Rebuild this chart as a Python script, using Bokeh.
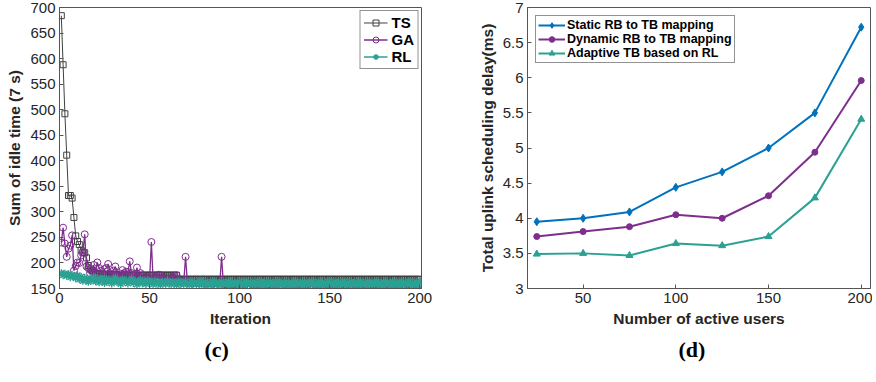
from bokeh.plotting import figure
from bokeh.models import Range1d, Legend, LegendItem, Title, FixedTicker
from bokeh.layouts import row
from bokeh.embed import file_html
from bokeh.resources import INLINE

# ---------------- data: chart (c) ----------------
ITER = list(range(1, 201))
TS = [
    684, 588, 492, 411, 332, 332, 327, 289, 253, 242, 236, 225, 220, 220, 210, 195, 188, 185, 182, 180,
    179, 178, 178, 178, 178, 178, 177, 177, 177, 177, 177, 177, 176, 176, 176, 176, 176, 176, 176, 176,
    176, 176, 176, 176, 176, 176, 176, 176, 176, 176, 176, 176, 176, 176, 176, 176, 176, 176, 176, 176,
    176, 176, 176, 176, 176, 168, 168, 168, 168, 168, 168, 168, 168, 168, 168, 168, 168, 168, 168, 168,
    168, 168, 168, 168, 168, 168, 168, 168, 168, 168, 168, 168, 168, 168, 168, 168, 168, 168, 168, 168,
    168, 168, 168, 168, 168, 168, 168, 168, 168, 168, 168, 168, 168, 168, 168, 168, 168, 168, 168, 168,
    168, 168, 168, 168, 168, 168, 168, 168, 168, 168, 168, 168, 168, 168, 168, 168, 168, 168, 168, 168,
    168, 168, 168, 168, 168, 168, 168, 168, 168, 168, 168, 168, 168, 168, 168, 168, 168, 168, 168, 168,
    168, 168, 168, 168, 168, 168, 168, 168, 168, 168, 168, 168, 168, 168, 168, 168, 168, 168, 168, 168,
    168, 168, 168, 168, 168, 168, 168, 168, 168, 168, 168, 168, 168, 168, 168, 168, 168, 168, 168, 168,
]
GA = [
    240, 269, 238, 212, 228, 234, 254, 185, 194, 201, 200, 215, 222, 256, 193, 190, 180, 185, 196, 180,
    201, 190, 185, 178, 188, 190, 198, 180, 178, 185, 193, 175, 180, 172, 186, 180, 183, 182, 203, 180,
    175, 178, 191, 172, 180, 175, 170, 172, 168, 166, 241, 166, 170, 172, 177, 176, 170, 168, 165, 168,
    166, 170, 172, 174, 176, 165, 163, 162, 163, 212, 162, 161, 162, 160, 161, 162, 160, 160, 161, 160,
    159, 160, 161, 160, 159, 160, 160, 159, 160, 212, 158, 157, 158, 157, 156, 157, 158, 156, 157, 156,
    155, 156, 157, 155, 156, 155, 157, 156, 155, 156, 157, 155, 156, 155, 156, 157, 155, 156, 155, 156,
    157, 155, 156, 155, 156, 157, 155, 156, 155, 156, 155, 157, 156, 155, 156, 155, 157, 156, 155, 156,
    155, 156, 157, 155, 156, 155, 156, 157, 155, 156, 155, 156, 155, 157, 156, 155, 156, 155, 156, 157,
    155, 156, 155, 157, 156, 155, 156, 155, 156, 157, 155, 156, 155, 156, 157, 155, 156, 155, 156, 155,
    157, 156, 155, 156, 155, 156, 157, 155, 156, 155, 156, 155, 157, 156, 155, 156, 155, 156, 157, 155,
]
RL = [
    180, 176, 179, 175, 178, 172, 177, 174, 170, 176, 168, 173, 165, 171, 167, 163, 170, 166, 172, 164,
    168, 162, 170, 165, 161, 169, 163, 167, 160, 166, 171, 162, 165, 159, 168, 163, 166, 160, 164, 169,
    161, 165, 158, 163, 167, 160, 164, 159, 166, 161, 163, 158, 165, 160, 162, 157, 164, 161, 159, 165,
    160, 158, 163, 161, 157, 164, 159, 162, 158, 163, 160, 157, 164, 159, 162, 158, 161, 165, 157, 160,
    163, 158, 161, 157, 164, 159, 162, 160, 157, 163, 158, 161, 159, 164, 157, 162, 160, 158, 163, 159,
    161, 157, 164, 158, 162, 160, 157, 163, 159, 161, 158, 164, 157, 162, 160, 158, 163, 159, 161, 157,
    164, 158, 162, 159, 157, 163, 160, 158, 162, 157, 164, 159, 161, 158, 163, 157, 160, 162, 158, 164,
    159, 161, 157, 163, 158, 162, 160, 157, 164, 159, 161, 158, 163, 157, 162, 160, 158, 164, 159, 161,
    157, 163, 158, 162, 160, 157, 164, 158, 161, 159, 163, 157, 162, 160, 158, 164, 159, 161, 157, 163,
    158, 162, 160, 157, 164, 159, 161, 158, 163, 157, 162, 160, 158, 164, 159, 161, 157, 163, 158, 162,
]
C_XTICKS = [0, 50, 100, 150, 200]
C_YTICKS = [150, 200, 250, 300, 350, 400, 450, 500, 550, 600, 650, 700]

# ---------------- data: chart (d) ----------------
USERS = [25, 50, 75, 100, 125, 150, 175, 200]
STATIC = [3.95, 4.00, 4.09, 4.44, 4.66, 5.00, 5.50, 6.72]
DYNAMIC = [3.74, 3.81, 3.88, 4.05, 4.00, 4.32, 4.94, 5.96]
ADAPTIVE = [3.49, 3.50, 3.47, 3.64, 3.61, 3.74, 4.29, 5.41]
D_XTICKS = [50, 100, 150, 200]
D_YTICKS = [3, 3.5, 4, 4.5, 5, 5.5, 6, 6.5, 7]
D_YLABELS = ["3", "3.5", "4", "4.5", "5", "5.5", "6", "6.5", "7"]

FONT = "Liberation Sans"
AX = "#555555"
TXT = "#262626"


def style_axes(p, xticks, yticks, xlabel, ylabel):
    xa = p.xaxis[0]
    ya = p.yaxis[0]
    xa.ticker = FixedTicker(ticks=xticks)
    ya.ticker = FixedTicker(ticks=yticks)
    xa.axis_label = xlabel
    ya.axis_label = ylabel
    for ax in (xa, ya):
        ax.axis_line_color = AX
        ax.major_tick_line_color = AX
        ax.major_tick_in = 4
        ax.major_tick_out = 0
        ax.minor_tick_line_color = None
        ax.major_label_text_font = FONT
        ax.major_label_text_font_size = "15px"
        ax.major_label_text_color = TXT
        ax.major_label_standoff = 4
        ax.axis_label_text_font = FONT
        ax.axis_label_text_font_size = "15.5px"
        ax.axis_label_text_font_style = "bold"
        ax.axis_label_text_color = TXT
        ax.axis_label_standoff = 4
    p.xgrid.visible = False
    p.ygrid.visible = False
    p.outline_line_color = AX
    p.outline_line_width = 1
    p.background_fill_color = "white"
    p.border_fill_color = "white"


def add_caption(p, text, offset):
    t = Title(text=text, align="left", offset=offset, standoff=10,
              text_font="Liberation Serif", text_font_size="22px", text_font_style="bold",
              text_color="black")
    p.add_layout(t, "below")


# ---------------- chart (c) ----------------
pc = figure(width=440, height=366, x_range=Range1d(0, 201), y_range=Range1d(150, 700),
            output_backend="svg", toolbar_location=None,
            min_border_left=59, min_border_right=19, min_border_top=7, min_border_bottom=74)
style_axes(pc, C_XTICKS, C_YTICKS, "Iteration", "Sum of idle time (7 s)")

ts_c = "#404040"
ga_c = "#7E2F8E"
rl_c = "#2BA193"
l_ts = pc.line(ITER, TS, line_color=ts_c, line_width=1)
m_ts = pc.scatter(ITER, TS, marker="square", size=6, fill_color=None, line_color=ts_c, line_width=1)
l_ga = pc.line(ITER, GA, line_color=ga_c, line_width=1.3)
m_ga = pc.scatter(ITER, GA, marker="circle", size=7, fill_color=None, line_color=ga_c, line_width=1)
l_rl = pc.line(ITER, RL, line_color=rl_c, line_width=1.5)
m_rl = pc.scatter(ITER, RL, marker="asterisk", size=8, line_color=rl_c, line_width=1.4)

leg_c = Legend(items=[LegendItem(label="TS", renderers=[l_ts, m_ts]),
                      LegendItem(label="GA", renderers=[l_ga, m_ga]),
                      LegendItem(label="RL", renderers=[l_rl, m_rl])],
               location="top_right", margin=3, padding=3, spacing=0,
               glyph_width=24, glyph_height=15, label_height=15, label_standoff=4,
               label_text_font=FONT, label_text_font_size="15px", label_text_font_style="bold",
               label_text_color="black", border_line_color="#262626", border_line_width=1,
               background_fill_alpha=1)
pc.add_layout(leg_c)
add_caption(pc, "(c)", 145)

# ---------------- chart (d) ----------------
pd_ = figure(width=432, height=366, x_range=Range1d(20, 205), y_range=Range1d(3, 7),
             output_backend="svg", toolbar_location=None,
             min_border_left=87, min_border_right=2, min_border_top=7, min_border_bottom=74)
style_axes(pd_, D_XTICKS, D_YTICKS, "Number of active users", "Total uplink scheduling delay(ms)")
pd_.yaxis[0].major_label_overrides = {t: s for t, s in zip(D_YTICKS, D_YLABELS)}

b_c = "#0072BD"
p_c = "#7E2F8E"
t_c = "#2BA193"
r1 = pd_.line(USERS, STATIC, line_color=b_c, line_width=2)
s1 = pd_.scatter(USERS, STATIC, marker="diamond", size=8, fill_color=b_c, line_color=b_c)
r2 = pd_.line(USERS, DYNAMIC, line_color=p_c, line_width=2)
s2 = pd_.scatter(USERS, DYNAMIC, marker="circle", size=6, fill_color=p_c, line_color=p_c)
r3 = pd_.line(USERS, ADAPTIVE, line_color=t_c, line_width=2)
s3 = pd_.scatter(USERS, ADAPTIVE, marker="triangle", size=7, fill_color=t_c, line_color=t_c)

leg_d = Legend(items=[LegendItem(label="Static RB to TB mapping", renderers=[r1, s1]),
                      LegendItem(label="Dynamic RB to TB mapping", renderers=[r2, s2]),
                      LegendItem(label="Adaptive TB based on RL", renderers=[r3, s3])],
               location="top_left", margin=8, padding=2, spacing=0,
               glyph_width=27, glyph_height=14, label_height=14, label_standoff=2,
               label_text_font=FONT, label_text_font_size="12.5px", label_text_font_style="bold",
               label_text_color="black", border_line_color="#262626", border_line_width=1,
               background_fill_alpha=1)
pd_.add_layout(leg_d)
add_caption(pd_, "(d)", 151)

layout = row(pc, pd_)
open("out.html", "w").write(file_html(layout, INLINE))
